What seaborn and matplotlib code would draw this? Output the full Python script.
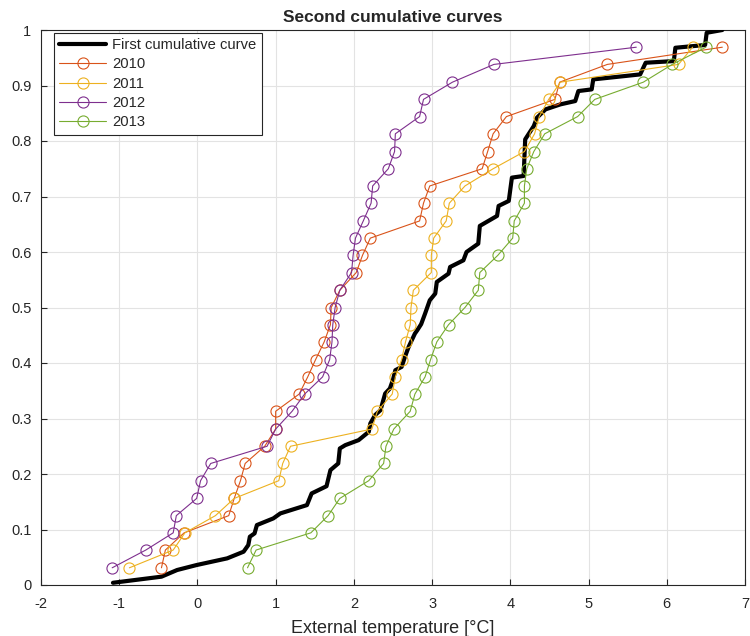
import matplotlib
matplotlib.use("Agg")
import matplotlib.pyplot as plt
import numpy as np
import pandas as pd
import seaborn as sns

# Cumulative fraction for each sorted yearly sample (31 observations each)
cum_frac = [0.031, 0.063, 0.094, 0.125, 0.156, 0.188, 0.219, 0.250, 0.281, 0.313,
            0.344, 0.375, 0.406, 0.438, 0.469, 0.500, 0.531, 0.563, 0.594, 0.625,
            0.656, 0.688, 0.719, 0.750, 0.781, 0.813, 0.844, 0.875, 0.906, 0.938,
            0.969]

# Sorted external temperatures per year [°C]
temp_2010 = [-0.46, -0.41, -0.17, 0.40, 0.47, 0.55, 0.61, 0.86, 1.00, 1.00,
             1.30, 1.41, 1.51, 1.62, 1.70, 1.71, 1.82, 2.03, 2.11, 2.21,
             2.84, 2.89, 2.97, 3.64, 3.71, 3.78, 3.95, 4.57, 4.63, 5.24, 6.71]
temp_2011 = [-0.87, -0.31, -0.16, 0.23, 0.47, 1.04, 1.09, 1.19, 2.23, 2.30,
             2.49, 2.53, 2.61, 2.66, 2.72, 2.73, 2.76, 2.99, 2.99, 3.02,
             3.18, 3.22, 3.42, 3.78, 4.18, 4.31, 4.37, 4.49, 4.64, 6.15, 6.33]
temp_2012 = [-1.09, -0.66, -0.31, -0.27, -0.01, 0.04, 0.17, 0.89, 1.00, 1.21,
             1.37, 1.60, 1.69, 1.72, 1.73, 1.76, 1.82, 1.97, 1.99, 2.02,
             2.12, 2.22, 2.24, 2.44, 2.52, 2.53, 2.84, 2.89, 3.26, 3.79, 5.61]
temp_2013 = [0.64, 0.75, 1.45, 1.67, 1.82, 2.19, 2.38, 2.41, 2.51, 2.72,
             2.78, 2.91, 2.98, 3.06, 3.21, 3.42, 3.59, 3.61, 3.84, 4.03,
             4.05, 4.18, 4.18, 4.21, 4.30, 4.44, 4.86, 5.08, 5.70, 6.07, 6.50]

# First cumulative curve (reference distribution, staircase-like)
first_x = [-1.08, -0.46, -0.26, -0.01, 0.38, 0.59, 0.65, 0.67, 0.73, 0.76,
           0.97, 1.06, 1.40, 1.46, 1.65, 1.70, 1.80, 1.82, 1.89, 2.06,
           2.19, 2.21, 2.27, 2.34, 2.37, 2.40, 2.46, 2.50, 2.53, 2.61,
           2.65, 2.70, 2.78, 2.81, 2.86, 2.91, 2.97, 3.04, 3.06, 3.21,
           3.23, 3.40, 3.44, 3.59, 3.61, 3.83, 3.85, 3.98, 4.02, 4.17,
           4.19, 4.30, 4.34, 4.45, 4.64, 4.83, 4.87, 5.04, 5.06, 5.66,
           5.73, 6.09, 6.11, 6.49, 6.51, 6.71]
first_y = [0.004, 0.015, 0.027, 0.036, 0.048, 0.060, 0.072, 0.087, 0.093, 0.108,
           0.120, 0.129, 0.144, 0.165, 0.178, 0.207, 0.219, 0.246, 0.252, 0.261,
           0.276, 0.291, 0.306, 0.315, 0.330, 0.345, 0.354, 0.370, 0.387, 0.393,
           0.410, 0.429, 0.453, 0.459, 0.470, 0.489, 0.513, 0.525, 0.546, 0.561,
           0.573, 0.585, 0.600, 0.615, 0.647, 0.665, 0.683, 0.692, 0.734, 0.737,
           0.803, 0.827, 0.842, 0.857, 0.866, 0.872, 0.890, 0.893, 0.911, 0.920,
           0.941, 0.944, 0.968, 0.973, 0.995, 1.000]

years = ["2010", "2011", "2012", "2013"]
year_temps = [temp_2010, temp_2011, temp_2012, temp_2013]
year_colors = ["#D95319", "#EDB120", "#7E2F8E", "#77AC30"]

x_ticks = [-2, -1, 0, 1, 2, 3, 4, 5, 6, 7]
y_ticks = [0, 0.1, 0.2, 0.3, 0.4, 0.5, 0.6, 0.7, 0.8, 0.9, 1]
y_tick_labels = ["0", "0.1", "0.2", "0.3", "0.4", "0.5", "0.6", "0.7", "0.8", "0.9", "1"]

sns.set_theme(style="ticks")
plt.rcParams["font.family"] = ["Liberation Sans", "DejaVu Sans"]

fig = plt.figure(figsize=(7.5, 6.36), dpi=100)
ax = fig.add_axes([41 / 750, 1 - 585 / 636, 704 / 750, 555 / 636])

first_df = pd.DataFrame({"x": first_x, "y": first_y})
sns.lineplot(data=first_df, x="x", y="y", ax=ax, color="black", linewidth=3.0,
             sort=False, estimator=None, label="First cumulative curve", zorder=3)

for name, temps, col in zip(years, year_temps, year_colors):
    df = pd.DataFrame({"x": temps, "y": cum_frac})
    sns.lineplot(data=df, x="x", y="y", ax=ax, color=col, linewidth=0.8,
                 sort=False, estimator=None, marker="o", markersize=8,
                 markerfacecolor="none", markeredgecolor=col, markeredgewidth=0.8,
                 label=name, zorder=4)

ax.set_xlim(-2, 7)
ax.set_ylim(0, 1)
ax.set_xticks(x_ticks)
ax.set_xticklabels([str(t) for t in x_ticks])
ax.set_yticks(y_ticks)
ax.set_yticklabels(y_tick_labels)

ax.grid(True, color="#e3e3e3", linewidth=0.8)
ax.set_axisbelow(True)
for side in ["left", "bottom", "top", "right"]:
    ax.spines[side].set_visible(True)
    ax.spines[side].set_color("#262626")
    ax.spines[side].set_linewidth(0.8)
ax.tick_params(direction="in", length=4, width=0.8, colors="#262626",
               labelsize=10.5, top=False, right=False)
ax.tick_params(axis="x", pad=9)
ax.tick_params(axis="y", pad=7)

ax.set_xlabel("External temperature [°C]", fontsize=13, color="#262626", labelpad=6)
ax.set_ylabel("")
ax.set_title("Second cumulative curves", fontsize=12.5, fontweight="bold", pad=6)

leg = ax.legend(loc="upper left", bbox_to_anchor=(13 / 704, 1 - 3 / 555),
                borderaxespad=0, fontsize=10.6, handlelength=3.2, handletextpad=0.4,
                labelspacing=0.36, borderpad=0.35, fancybox=False, framealpha=1,
                edgecolor="#262626", numpoints=1)
leg.get_frame().set_linewidth(0.8)

fig.savefig("out.png", dpi=100)
